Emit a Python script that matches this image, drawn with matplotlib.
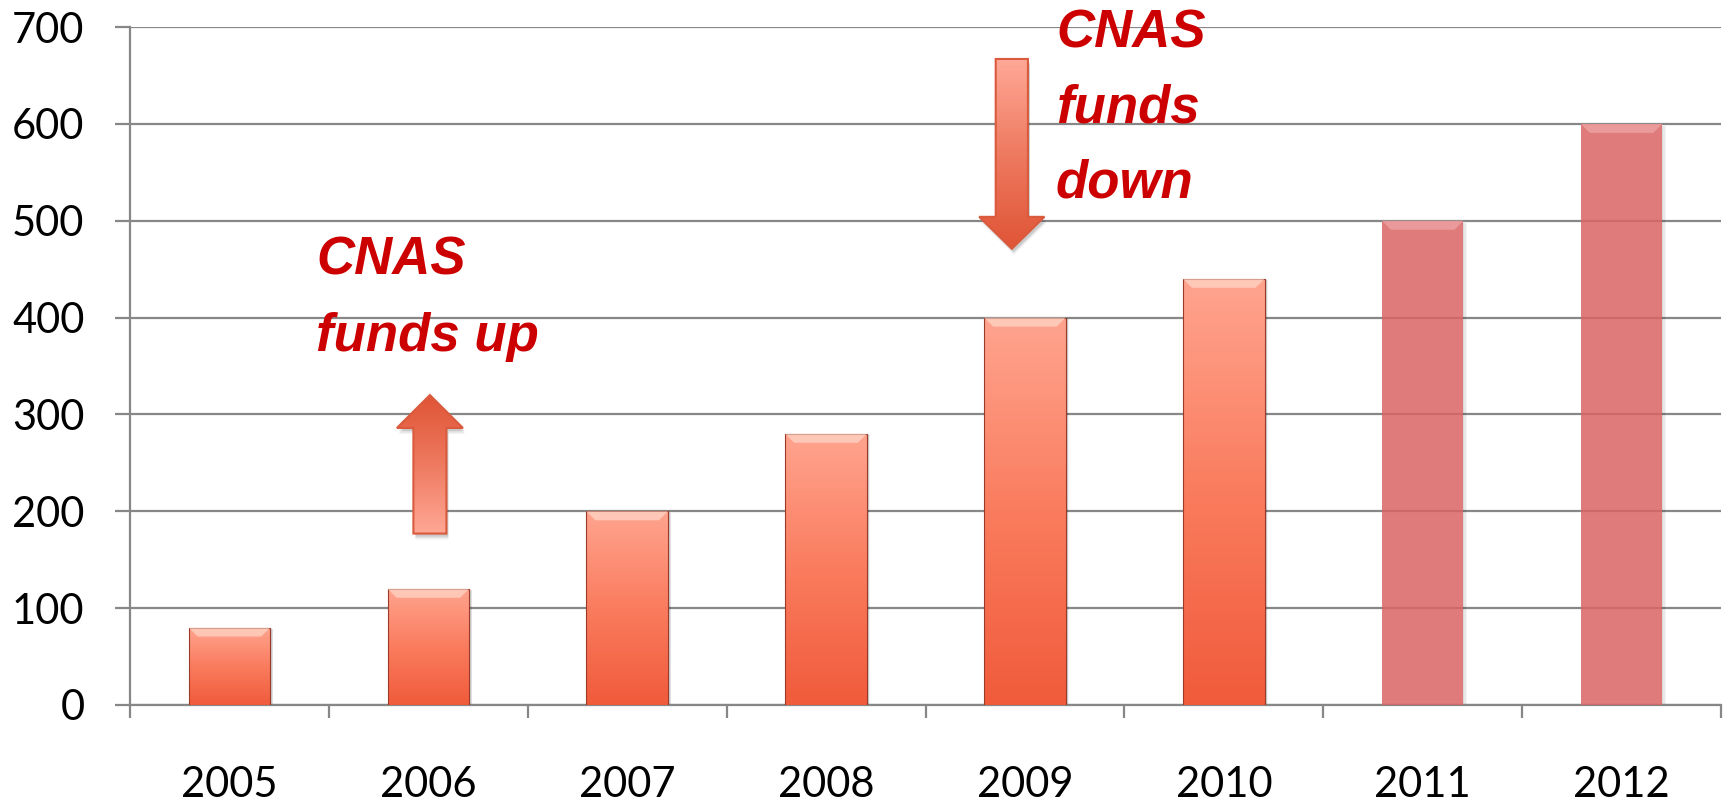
import numpy as np
import matplotlib
matplotlib.use("Agg")
import matplotlib.pyplot as plt
from matplotlib.patches import Rectangle, Polygon
from matplotlib.colors import LinearSegmentedColormap

# ---- data ----
years = ['2005', '2006', '2007', '2008', '2009', '2010', '2011', '2012']
values = [80, 120, 200, 280, 400, 440, 500, 600]
projected = [False, False, False, False, False, False, True, True]
y_ticks = [0, 100, 200, 300, 400, 500, 600, 700]
note_up = ['CNAS', 'funds up']
note_down = ['CNAS', 'funds', 'down']

W, H = 1723, 801
fig = plt.figure(figsize=(W / 100, H / 100), dpi=100)
ax_left, ax_right, ax_top, ax_bot = 130, 1721, 27, 705
ax = fig.add_axes([ax_left / W, 1 - ax_bot / H, (ax_right - ax_left) / W, (ax_bot - ax_top) / H])
ax.set_xlim(-0.5, len(years) - 0.5)
ax.set_ylim(0, 700)

px_x = (len(years)) / (ax_right - ax_left)   # data units per pixel (x)
px_y = 700 / (ax_bot - ax_top)               # data units per pixel (y)

grid_col = '#878787'
ax.set_yticks(y_ticks)
ax.yaxis.grid(True, color=grid_col, lw=1.6, zorder=0)
ax.set_axisbelow(True)
for s in ['top', 'right']:
    ax.spines[s].set_visible(False)
for s in ['left', 'bottom']:
    ax.spines[s].set_color(grid_col)
    ax.spines[s].set_linewidth(1.6)

ax.set_xticks(range(len(years)))
ax.set_xticklabels(years)
ax.set_xticks(np.arange(-0.5, len(years), 1.0), minor=True)
ax.tick_params(axis='x', which='major', length=0, pad=44, labelsize=30)
ax.tick_params(axis='x', which='minor', length=9.5, width=1.6, color=grid_col)
ax.tick_params(axis='y', which='major', length=10.8, width=1.6, color=grid_col, pad=22, labelsize=30)
for lab in ax.get_xticklabels() + ax.get_yticklabels():
    lab.set_fontfamily('Lato')

grad_cmap = LinearSegmentedColormap.from_list('bar', ['#F05B3B', '#FA7C5E', '#FFA48F'])
grad = np.linspace(0, 1, 256).reshape(-1, 1)
bar_w = 0.41

bars = ax.bar(range(len(years)), values, width=bar_w, zorder=3)
for i, (b, v, proj) in enumerate(zip(bars, values, projected)):
    x0 = b.get_x()
    if proj:
        # faint shadow only on the right/bottom edges
        for k, a in zip([4, 2.5, 1], [0.04, 0.05, 0.06]):
            ax.add_patch(Rectangle((x0 + bar_w, 0), k * px_x, v - 2 * px_y,
                                   facecolor='black', alpha=a, edgecolor='none', zorder=2))
        b.set_facecolor('#DA6464')
        b.set_alpha(0.85)
        b.set_edgecolor('none')
        b.set_zorder(4)
        hl_col = '#F2B0B0'
    else:
        for k, a in zip([5, 3.5, 2], [0.05, 0.07, 0.09]):
            sh = Rectangle((x0 + 1.5 * px_x - k * px_x * 0.3, -k * px_y * 0.6),
                           bar_w + k * px_x * 0.6, v + k * px_y * 0.3,
                           facecolor='black', alpha=a, edgecolor='none', zorder=2)
            ax.add_patch(sh)
        b.set_facecolor('none')
        b.set_edgecolor('#9B3A28')
        b.set_linewidth(0.8)
        b.set_zorder(5)
        im = ax.imshow(grad, extent=[x0, x0 + bar_w, 0, v], aspect='auto',
                       cmap=grad_cmap, origin='lower', zorder=3, interpolation='bicubic')
        im.set_clip_path(b)
        hl_col = '#FFE2D4'
    # bevel highlight at top
    bh = 9 * px_y
    bx = 9 * px_x
    bevel = Polygon([[x0, v], [x0 + bar_w, v], [x0 + bar_w - bx, v - bh], [x0 + bx, v - bh]],
                    closed=True, facecolor=hl_col, edgecolor='none', alpha=0.6, zorder=6)
    ax.add_patch(bevel)

# ---- arrows ----
arrow_cmap_up = LinearSegmentedColormap.from_list('au', ['#FFA896', '#EE7A60', '#E05436'])
arrow_cmap_dn = LinearSegmentedColormap.from_list('ad', ['#E05436', '#EE7A60', '#FFA896'])


def draw_arrow(xc, y_tail, y_base, y_tip, half_body, half_head, cmap):
    pts = [[xc - half_body, y_tail], [xc - half_body, y_base], [xc - half_head, y_base],
           [xc, y_tip], [xc + half_head, y_base], [xc + half_body, y_base], [xc + half_body, y_tail]]
    for k, a in zip([4, 2.5, 1], [0.05, 0.07, 0.09]):
        shp = [[p[0] + 2 * px_x, p[1] - (2 + k) * px_y] for p in pts]
        ax.add_patch(Polygon(shp, closed=True, facecolor='black', alpha=a, edgecolor='none', zorder=7))
    poly = Polygon(pts, closed=True, facecolor='none', edgecolor='#D95A3C', lw=1.5, zorder=9)
    ax.add_patch(poly)
    lo, hi = min(y_tail, y_tip), max(y_tail, y_tip)
    im = ax.imshow(grad, extent=[xc - half_head, xc + half_head, lo, hi], aspect='auto',
                   cmap=cmap, origin='lower', zorder=8, interpolation='bicubic')
    im.set_clip_path(poly)


draw_arrow(1.008, 177, 286, 320, 0.083, 0.166, arrow_cmap_up)
draw_arrow(3.934, 667, 504, 471, 0.081, 0.164, arrow_cmap_dn)

ax.set_xlim(-0.5, len(years) - 0.5)
ax.set_ylim(0, 700)

txt_kw = dict(color='#CC0000', fontsize=38, fontweight='bold', fontstyle='italic',
              family='Liberation Sans', va='baseline', ha='left', zorder=10)
for line, yb in zip(note_up, [444, 366]):
    ax.text(0.435, yb, line, **txt_kw)
for line, yb in zip(note_down, [679, 601, 524]):
    t = ax.text(4.156, yb, line, **txt_kw)
    t.set_clip_on(False)

fig.savefig('out.png', dpi=100)
